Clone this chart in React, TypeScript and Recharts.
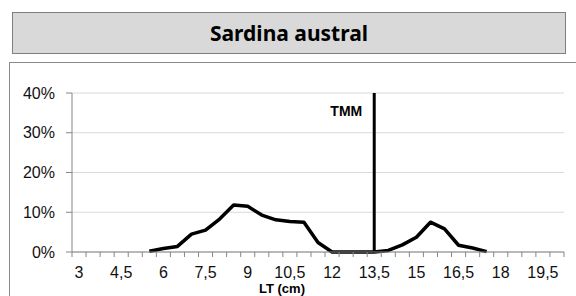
import { LineChart, Line, XAxis, YAxis, CartesianGrid, ReferenceLine } from 'recharts';

// Talla (LT, cm) en pasos de 0,5
const LT = [3, 3.5, 4, 4.5, 5, 5.5, 6, 6.5, 7, 7.5, 8, 8.5, 9, 9.5, 10, 10.5, 11, 11.5, 12, 12.5, 13, 13.5, 14, 14.5, 15, 15.5, 16, 16.5, 17, 17.5, 18, 18.5, 19, 19.5, 20];

// Frecuencia (%) por talla
const FREQ = [null, null, null, null, null, 0.2, 0.9, 1.4, 4.5, 5.5, 8.3, 11.8, 11.5, 9.3, 8.1, 7.7, 7.5, 2.4, 0, 0, 0, 0, 0.4, 1.8, 3.7, 7.5, 5.8, 1.7, 1.0, 0.1, null, null, null, null, null];

const LABEL_TICKS = [3, 4.5, 6, 7.5, 9, 10.5, 12, 13.5, 15, 16.5, 18, 19.5];
const BOUNDARY_TICKS = [2.75, 3.25, 3.75, 4.25, 4.75, 5.25, 5.75, 6.25, 6.75, 7.25, 7.75, 8.25, 8.75, 9.25, 9.75, 10.25, 10.75, 11.25, 11.75, 12.25, 12.75, 13.25, 13.75, 14.25, 14.75, 15.25, 15.75, 16.25, 16.75, 17.25, 17.75, 18.25, 18.75, 19.25, 19.75, 20.25];
const Y_TICKS = [0, 10, 20, 30, 40];
const TMM = 13.5;

const AXIS = '#868686';
const FONT = '"Liberation Sans", Arial, sans-serif';

const data = LT.map((lt, i) => ({ lt, pct: FREQ[i] }));

const fmt = (v: number) => String(v).replace('.', ',');

export default function App() {
    return (
        <div style={{ position: 'absolute', left: 0, top: 0, width: 576, height: 296, overflow: 'hidden', background: '#fff' }}>
            {/* title box */}
            <div
                style={{
                    position: 'absolute', left: 12, top: 12, width: 554, height: 42, boxSizing: 'border-box',
                    background: '#d9d9d9', border: '1px solid #7f7f7f',
                    display: 'flex', alignItems: 'center', justifyContent: 'center',
                    fontFamily: '"Noto Sans", sans-serif', fontWeight: 700, fontSize: 21, color: '#000',
                }}
            >
                Sardina austral
            </div>

            {/* chart frame */}
            <div style={{ position: 'absolute', left: 9, top: 62, width: 620, height: 300, border: '1px solid #8a8a8a' }} />

            <div style={{ position: 'absolute', left: 0, top: 0 }}>
                <LineChart width={576} height={296} data={data} margin={{ top: 93, right: 12, bottom: 0, left: 0 }}>
                    <CartesianGrid vertical={false} stroke="#d9d9d9" />
                    <XAxis
                        xAxisId="labels"
                        dataKey="lt"
                        type="number"
                        domain={[2.75, 20.25]}
                        ticks={LABEL_TICKS}
                        tickFormatter={fmt}
                        tickLine={false}
                        axisLine={false}
                        tick={{ fill: '#111', fontSize: 16, fontFamily: FONT }}
                        tickSize={6}
                        tickMargin={3}
                        height={38}
                        interval={0}
                        allowDataOverflow
                        label={{ value: 'LT (cm)', position: 'insideBottom', offset: 3, dx: -36, fill: '#000', fontSize: 13, fontWeight: 700, fontFamily: FONT }}
                    />
                    {/* category boundary tick marks, stacked right under the plot */}
                    <XAxis
                        xAxisId="aticks"
                        dataKey="lt"
                        type="number"
                        domain={[2.75, 20.25]}
                        ticks={BOUNDARY_TICKS}
                        tick={{ fontSize: 0, fill: 'none' }}
                        tickFormatter={() => ''}
                        axisLine={{ stroke: AXIS }}
                        tickLine={{ stroke: AXIS }}
                        tickSize={5}
                        height={6}
                        interval={0}
                        allowDataOverflow
                    />
                    <YAxis
                        domain={[0, 40]}
                        ticks={Y_TICKS}
                        tickFormatter={(v) => `${v}%`}
                        width={72}
                        axisLine={{ stroke: AXIS }}
                        tickLine={{ stroke: AXIS }}
                        tickSize={6}
                        tickMargin={11}
                        tick={{ fill: '#111', fontSize: 16, fontFamily: FONT }}
                    />
                    <ReferenceLine
                        xAxisId="labels"
                        x={TMM}
                        stroke="#000"
                        strokeWidth={3}
                        label={(props: any) => {
                            const { x, y } = props.viewBox;
                            return (
                                <text x={x - 12} y={y + 23} textAnchor="end" fontFamily={FONT} fontWeight={700} fontSize={14} fill="#000">
                                    TMM
                                </text>
                            );
                        }}
                    />
                    <Line
                        xAxisId="labels"
                        type="linear"
                        dataKey="pct"
                        stroke="#000"
                        strokeWidth={3.5}
                        strokeLinejoin="round"
                        dot={false}
                        isAnimationActive={false}
                    />
                </LineChart>
            </div>
        </div>
    );
}
